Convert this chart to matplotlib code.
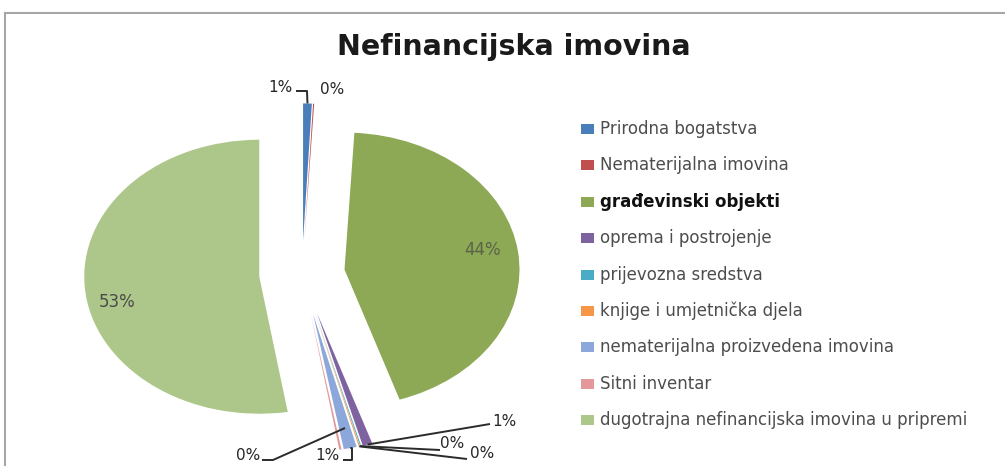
import numpy as np
import matplotlib
matplotlib.use("Agg")
from matplotlib import pyplot as plt
from matplotlib.patches import Rectangle
from matplotlib.lines import Line2D

W, H = 1005, 466

# data
categories = ["Prirodna bogatstva", "Nematerijalna imovina", "građevinski objekti",
              "oprema i postrojenje", "prijevozna sredstva", "knjige i umjetnička djela",
              "nematerijalna proizvedena imovina", "Sitni inventar",
              "dugotrajna nefinancijska imovina u pripremi"]
shares = [0.8, 0.1, 44.0, 0.9, 0.1, 0.1, 1.2, 0.2, 52.6]
colors = ["#4a7ebb", "#c0504d", "#8da955", "#7f63a1", "#4bacc6", "#f79646",
          "#8ca8da", "#e3999a", "#adc78a"]

# pixel layout of the pie: centre and the two radii (pie is stretched)
CX, CY, RX, RY = 302, 274, 175, 137


def X(px):
    return (px - CX) / RX


def Y(py):
    return (CY - py) / RY


fig = plt.figure(figsize=(W / 100, H / 100), dpi=100)
ax = fig.add_axes([0, 0, 1, 1])

explode = [0.245, 0.245, 0.245, 0.3, 0.3, 0.3, 0.3, 0.3, 0.245]
wedges, _ = ax.pie(shares, colors=colors, explode=explode, startangle=90,
                   counterclock=False, wedgeprops=dict(linewidth=0))
ax.set_aspect("auto")
ax.set_xlim(X(0), X(W))
ax.set_ylim(Y(H), Y(0))
ax.axis("off")


def tip(w, frac=1.0):
    a = np.deg2rad((w.theta1 + w.theta2) / 2)
    return w.center[0] + frac * w.r * np.cos(a), w.center[1] + frac * w.r * np.sin(a)


def pct(v):
    return f"{v:.0f}%"


# labels inside the two big slices
ax.text(X(483), Y(250), pct(shares[2]), ha="center", va="center", fontsize=12, color="#5a6348")
ax.text(X(117), Y(302), pct(shares[8]), ha="center", va="center", fontsize=12, color="#4a4a4a")

# small slices: (slice index, label position px, elbow points px, alignment)
small = [
    (0, (293, 87), [(307, 91), (296, 91)], "right"),
    (1, (320, 90), [], "left"),
    (3, (492, 421), [(490, 424)], "left"),
    (4, (440, 443), [(440, 450)], "left"),
    (5, (470, 453), [(467, 459)], "left"),
    (6, (340, 455), [(352, 448), (352, 460), (343, 460)], "right"),
    (7, (260, 455), [(345, 428), (273, 460), (262, 460)], "right"),
]
lc = "#2b2b2b"
for i, (tx, ty), elbows, ha in small:
    pts = [tip(wedges[i])] if elbows and i != 7 else []
    pts += [(X(px), Y(py)) for px, py in elbows]
    if len(pts) > 1:
        ax.plot([p[0] for p in pts], [p[1] for p in pts], color=lc, lw=1.4,
                solid_capstyle="butt", clip_on=False)
    ax.text(X(tx), Y(ty), pct(shares[i]), ha=ha, va="center", fontsize=11, color="#262626")

# title
fig.text(514 / W, 1 - 47 / H, "Nefinancijska imovina", ha="center", va="center",
         fontsize=20.5, fontweight="bold", family="DejaVu Sans", color="#1a1a1a")

# legend drawn by hand to match spacing
for k, (lab, col) in enumerate(zip(categories, colors)):
    yp = 129 + k * 36.4
    fig.patches.append(Rectangle((581 / W, 1 - (yp + 5) / H), 13 / W, 10 / H,
                                 transform=fig.transFigure, color=col, lw=0))
    bold = lab == "građevinski objekti"
    fig.text(600 / W, 1 - yp / H, lab, ha="left", va="center", fontsize=12,
             family="DejaVu Sans", fontweight="bold" if bold else "normal",
             color="#111111" if bold else "#4d4d4d")

# chart frame (top and left edges visible)
fig.lines.append(Line2D([5 / W, 1], [1 - 13 / H, 1 - 13 / H], transform=fig.transFigure,
                        color="#a6a6a6", lw=1.5))
fig.lines.append(Line2D([5 / W, 5 / W], [0, 1 - 13 / H], transform=fig.transFigure,
                        color="#a6a6a6", lw=1.5))

fig.savefig("out.png", dpi=100, facecolor="white")
